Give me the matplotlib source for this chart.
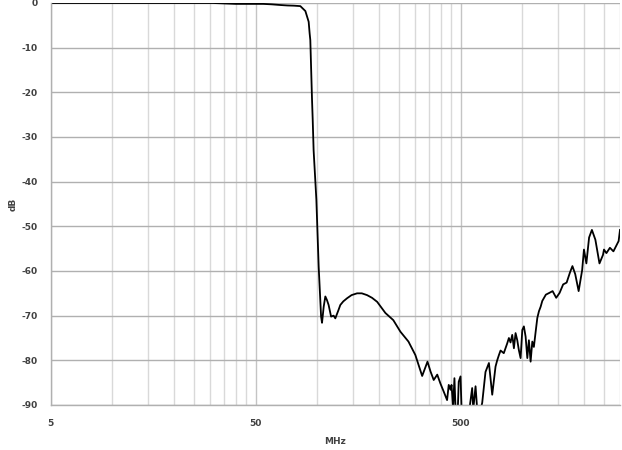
import matplotlib
matplotlib.use("Agg")
import matplotlib.pyplot as plt
from matplotlib.ticker import FixedLocator, NullFormatter

freq_mhz = [5, 10, 20, 31, 40, 54.5, 60, 66, 71.4, 77, 82.7, 87.5, 90.8, 91.8, 92.5,
            94.3, 95, 96, 99, 101.6, 104.4, 105.5, 107.5, 109.5, 111.5, 113.6, 116.8,
            120.2, 122.5, 126.8, 129.6, 134, 139.8, 147, 156.4, 165, 175, 185, 196,
            215, 235, 254.6, 278.6, 301, 325, 345, 357, 370, 385, 399, 414, 430, 438,
            447, 452, 460, 467, 473, 485, 490, 500, 506, 519, 545, 570, 577, 592, 603,
            620, 638, 662, 688, 714, 741, 755, 770, 784, 813, 845, 861, 877, 894, 911,
            928, 946, 963, 982, 1001, 1019, 1039, 1059, 1078, 1099, 1120, 1140, 1163,
            1185, 1207, 1230, 1253, 1304, 1356, 1407, 1465, 1522, 1584, 1647, 1711,
            1758, 1814, 1885, 1961, 2001, 2056, 2120, 2188, 2275, 2382, 2478, 2506,
            2575, 2679, 2786, 2954, 3000]
gain_db = [0.0, 0.0, 0.0, 0.0, -0.2, -0.2, -0.3, -0.45, -0.55, -0.6, -0.7, -1.8, -4.2,
           -6.8, -8.3, -21.7, -26.0, -33.0, -44.0, -59.0, -70.2, -71.6, -68.0, -65.7,
           -66.5, -67.6, -70.2, -70.0, -70.6, -68.8, -67.6, -66.8, -66.1, -65.4, -65.0,
           -65.0, -65.4, -66.0, -66.9, -69.4, -71.0, -73.6, -75.8, -78.8, -83.5, -80.3,
           -82.5, -84.4, -83.2, -85.2, -87.0, -88.9, -85.5, -86.6, -85.5, -90.5, -84.0,
           -91.0, -91.0, -84.8, -83.6, -91.0, -91.0, -93.0, -86.2, -91.0, -85.8, -91.0,
           -92.0, -89.5, -82.6, -80.6, -87.7, -81.4, -80.0, -78.8, -77.8, -78.4, -76.2,
           -75.0, -76.0, -74.3, -77.3, -73.9, -75.5, -77.7, -79.5, -73.2, -72.4, -74.7,
           -79.5, -75.5, -80.3, -75.8, -77.0, -73.6, -70.5, -69.0, -68.0, -66.7, -65.3,
           -64.9, -64.5, -66.0, -64.9, -63.0, -62.6, -60.3, -58.9, -60.7, -64.5, -59.8,
           -55.2, -58.3, -52.5, -50.8, -53.0, -58.3, -56.4, -55.2, -56.0, -54.8, -55.6,
           -53.3, -50.8]

x_major = [5, 50, 500]
x_major_labels = ["5", "50", "500"]
y_ticks = [0, -10, -20, -30, -40, -50, -60, -70, -80, -90]
x_label = "MHz"
y_label = "dB"

x_minor = [m * k for m in (5, 50, 500) for k in range(2, 10)]

fig = plt.figure(figsize=(6.22, 4.5), dpi=100)
ax = fig.add_axes([50.6 / 622, 45 / 450, (620 - 50.6) / 622, 402 / 450])
ax.set_xscale("log")
ax.set_xlim(5, 3000)
ax.set_ylim(-90, 0)

ax.xaxis.set_major_locator(FixedLocator(x_major))
ax.xaxis.set_minor_locator(FixedLocator([v for v in x_minor if v <= 3000]))
ax.set_xticklabels(x_major_labels)
ax.xaxis.set_minor_formatter(NullFormatter())
ax.set_yticks(y_ticks)
ax.set_yticklabels([str(v) for v in y_ticks])

ax.grid(True, which="major", axis="y", color="#b0b0b0", linewidth=1.0)
ax.grid(True, which="major", axis="x", color="#c4c4c4", linewidth=1.0)
ax.grid(True, which="minor", axis="x", color="#d9d9d9", linewidth=1.0)
ax.set_axisbelow(True)

for s in ("top", "right"):
    ax.spines[s].set_visible(False)
for s in ("left", "bottom"):
    ax.spines[s].set_color("#b0b0b0")
    ax.spines[s].set_linewidth(1.0)

ax.tick_params(which="both", length=0, labelsize=6.5, labelcolor="#404040", pad=9)
ax.tick_params(axis="x", pad=10)
for lbl in ax.get_xticklabels() + ax.get_yticklabels():
    lbl.set_fontweight("bold")

ax.plot(freq_mhz, gain_db, color="black", linewidth=1.3, clip_on=True)

ax.set_xlabel(x_label, fontsize=6.5, fontweight="bold", color="#404040")
ax.set_ylabel(y_label, fontsize=6.5, fontweight="bold", color="#404040")
ax.xaxis.set_label_coords(0.5, -0.0896)
ax.yaxis.set_label_coords(-0.066, 0.5)
ax.xaxis.label.set_va("center")
ax.yaxis.label.set_va("center")

fig.savefig("out.png", dpi=100)
